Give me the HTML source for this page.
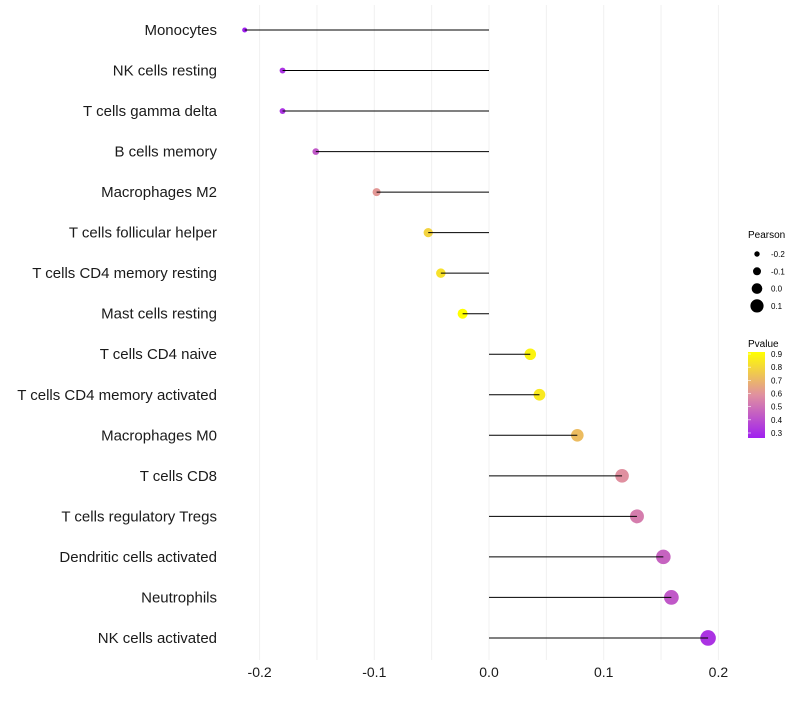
<!DOCTYPE html>
<html><head><meta charset="utf-8"><style>
body{margin:0;background:#fff;font-family:"Liberation Sans",sans-serif}
</style></head><body>
<svg id="chart" width="800" height="700" xmlns="http://www.w3.org/2000/svg" font-family="Liberation Sans, sans-serif">
<g id="grid"></g>
<g id="pts"></g>
<g id="marks"></g>
<g id="ylabels" style="white-space:pre"></g>
<g id="xlabels"></g>
<g>
<text x="748" y="238" font-size="10">Pearson</text>
<g id="sizeleg"></g>
</g>
<g>
<text x="748" y="347" font-size="10">Pvalue</text>
<defs><linearGradient id="pg" x1="0" y1="1" x2="0" y2="0">
<stop offset="0" stop-color="#a020f0"/><stop offset="0.5" stop-color="#e090a0"/><stop offset="1" stop-color="#ffff00"/></linearGradient></defs>
<rect x="748" y="352" width="17" height="86" fill="url(#pg)"/>
<g id="colleg"></g>
</g>
</svg>
<script>
const categories=["Monocytes","NK cells resting","T cells gamma delta","B cells memory","Macrophages M2","T cells follicular helper","T cells CD4 memory resting","Mast cells resting","T cells CD4 naive","T cells CD4 memory activated","Macrophages M0","T cells CD8","T cells regulatory  Tregs ","Dendritic cells activated","Neutrophils","NK cells activated"];
const pearson=[-0.213,-0.180,-0.180,-0.151,-0.098,-0.053,-0.042,-0.023,0.036,0.044,0.077,0.116,0.129,0.152,0.159,0.191];
const pvalue=[0.3,0.35,0.35,0.45,0.62,0.78,0.82,0.9,0.87,0.84,0.72,0.6,0.55,0.48,0.45,0.35];
const xTicks=[-0.2,-0.1,0.0,0.1,0.2];
const xTickLabels=["-0.2","-0.1","0.0","0.1","0.2"];
const sizeLegend=[-0.2,-0.1,0.0,0.1];
const colorLegend=[0.3,0.4,0.5,0.6,0.7,0.8,0.9];
const NS="http://www.w3.org/2000/svg";
const x=v=>489+v*1147;
const y=i=>30+i*40.53;
const r=v=>Math.max(1.8,5.3+v*13);
const pc=p=>{const t=(p-0.3)/0.6;const a=[160,32,240],b=[224,144,160],c=[255,255,0];let u,v,s;if(t<0.5){u=a;v=b;s=t/0.5}else{u=b;v=c;s=(t-0.5)/0.5}return `rgb(${u.map((q,k)=>Math.round(q+(v[k]-q)*s)).join(',')})`;};
const py=p=>433-(p-0.3)/0.6*79;
function mk(tag,at,parent,txt){const e=document.createElementNS(NS,tag);for(const k in at)e.setAttribute(k,at[k]);if(txt!==undefined)e.textContent=txt;document.getElementById(parent).appendChild(e);return e;}
[-0.2,-0.15,-0.1,-0.05,0,0.05,0.1,0.15,0.2].forEach(v=>{const l=mk('line',{x1:x(v),x2:x(v),y1:5,y2:660,stroke:'#f0f0f0','stroke-width':1},'grid');

});
categories.forEach((c,i)=>{
const pt=mk('circle',{cx:x(pearson[i]),cy:y(i),r:r(pearson[i]),fill:pc(pvalue[i])},'pts');


const ln=mk('line',{x1:x(0),x2:x(pearson[i]),y1:y(i),y2:y(i),stroke:'#000','stroke-width':1},'marks');


const t=mk('text',{x:217,y:y(i)+5,'font-size':15,'text-anchor':'end',fill:'#1a1a1a'},'ylabels',c);


});
xTicks.forEach((v,i)=>{const t=mk('text',{x:x(v),y:677,'font-size':14,'text-anchor':'middle',fill:'#1a1a1a'},'xlabels',xTickLabels[i]);

});
sizeLegend.forEach((v,i)=>{const yy=254+i*17.3;
const c=mk('circle',{cx:757,cy:yy,r:r(v),fill:'#000'},'sizeleg');


const t=mk('text',{x:771,y:yy+3,'font-size':8},'sizeleg',v.toFixed(1));

});
colorLegend.forEach(v=>{
const t=mk('text',{x:771,y:py(v)+3,'font-size':8},'colleg',v.toFixed(1));


const l=mk('line',{x1:748,x2:751,y1:py(v),y2:py(v),stroke:'#fff','stroke-width':0.6},'colleg');

});
</script>
</body></html>
